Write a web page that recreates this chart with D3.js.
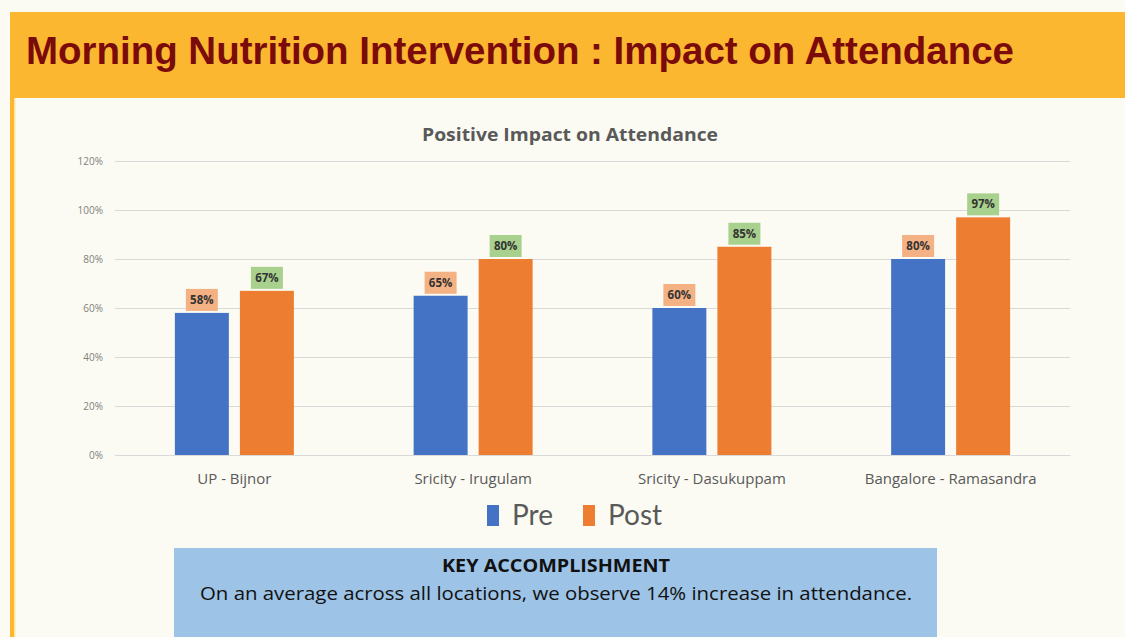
<!DOCTYPE html>
<html>
<head>
<meta charset="utf-8">
<title>Morning Nutrition Intervention</title>
<script src="https://d3js.org/d3.v7.min.js"></script>
<style>
  body { margin: 0; background: #fbfbf3; }
  svg { display: block; }
  .tick text { font-family: "Open Sans", Lato, sans-serif; }
</style>
</head>
<body>
<script>
var categories = ["UP - Bijnor", "Sricity - Irugulam", "Sricity - Dasukuppam", "Bangalore - Ramasandra"];
var series = ["Pre", "Post"];
var preValues = [58, 65, 60, 80];
var postValues = [67, 80, 85, 97];
var yTicks = [0, 20, 40, 60, 80, 100, 120];

var W = 1125, H = 637;
var svg = d3.select("body").append("svg").attr("width", W).attr("height", H);

// page frame
svg.append("rect").attr("width", W).attr("height", H).attr("fill", "#fbfbf3");
svg.append("rect").attr("x", 12).attr("y", 12).attr("width", W - 12).attr("height", 86).attr("fill", "#fbb72f");
svg.append("rect").attr("x", 10).attr("y", 12).attr("width", 4).attr("height", H - 12).attr("fill", "#fbb72f");
svg.append("rect").attr("x", 14).attr("y", 98).attr("width", 1.5).attr("height", H - 98).attr("fill", "#fde3a3");
svg.append("text").attr("x", 26).attr("y", 64)
  .attr("font-family", "'Liberation Sans Narrow', 'Liberation Sans', Arial, sans-serif").attr("font-weight", "bold")
  .attr("font-size", 38).attr("fill", "#7b0b0b")
  .attr("textLength", 988).attr("lengthAdjust", "spacingAndGlyphs")
  .text("Morning Nutrition Intervention : Impact on Attendance");

// chart
var x0 = d3.scaleBand().domain(categories).range([115, 1070]);
var x1 = d3.scaleBand().domain(series).range([-59.5, 59.5]).paddingInner(0.17);
var y = d3.scaleLinear().domain([0, 120]).range([455, 161]);
var colors = { Pre: "#4472c4", Post: "#ed7d31" };
var labelFill = { Pre: "#f4b183", Post: "#a9d18e" };

svg.append("text").attr("x", 570).attr("y", 141).attr("text-anchor", "middle")
  .attr("font-family", "'Open Sans', Lato, sans-serif").attr("font-weight", "bold")
  .attr("font-size", 18).attr("fill", "#595959")
  .attr("textLength", 296).attr("lengthAdjust", "spacingAndGlyphs")
  .text("Positive Impact on Attendance");

var yAxis = svg.append("g").attr("transform", "translate(115,0)")
  .call(d3.axisLeft(y).tickValues(yTicks).tickSize(-955).tickFormat(function (d) { return d + "%"; }));
yAxis.select(".domain").remove();
yAxis.selectAll(".tick line").attr("stroke", "#d9d9d9").attr("stroke-width", 1.2);
yAxis.selectAll(".tick text").attr("x", -12).attr("font-size", 10).attr("fill", "#7f7f7f");

var rows = [];
categories.forEach(function (c, i) {
  rows.push({ cat: c, s: "Pre", v: preValues[i] });
  rows.push({ cat: c, s: "Post", v: postValues[i] });
});
function bx(d) { return x0(d.cat) + x0.bandwidth() / 2 + x1(d.s); }

svg.append("g").selectAll("rect").data(rows).enter().append("rect")
  .attr("x", bx).attr("y", function (d) { return y(d.v); })
  .attr("width", x1.bandwidth()).attr("height", function (d) { return y(0) - y(d.v); })
  .attr("fill", function (d) { return colors[d.s]; });

var lab = svg.append("g").selectAll("g").data(rows).enter().append("g")
  .attr("transform", function (d) { return "translate(" + (bx(d) + x1.bandwidth() / 2) + "," + (y(d.v) - 13) + ")"; });
lab.append("rect").attr("x", -16).attr("y", -11).attr("width", 32).attr("height", 22)
  .attr("fill", function (d) { return labelFill[d.s]; });
lab.append("text").attr("text-anchor", "middle").attr("dy", "0.35em")
  .attr("font-family", "'Open Sans', Lato, sans-serif").attr("font-weight", "bold")
  .attr("font-size", 11.5).attr("fill", "#333").text(function (d) { return d.v + "%"; });

var xAxis = svg.append("g").attr("transform", "translate(0,455)")
  .call(d3.axisBottom(x0).tickSize(0).tickPadding(18));
xAxis.select(".domain").attr("stroke", "#d9d9d9");
xAxis.selectAll(".tick text").attr("font-size", 15).attr("fill", "#595959");

// legend
var leg = svg.append("g").selectAll("g").data(series).enter().append("g")
  .attr("transform", function (d, i) { return "translate(" + (487 + i * 96) + ",505)"; });
leg.append("rect").attr("width", 12).attr("height", 21).attr("fill", function (d) { return colors[d]; });
leg.append("text").attr("x", 25).attr("y", 20)
  .attr("font-family", "Lato, 'Open Sans', sans-serif").attr("font-size", 28)
  .attr("fill", "#595959").text(function (d) { return d; });

// key accomplishment box
svg.append("rect").attr("x", 174).attr("y", 548).attr("width", 763).attr("height", H - 548).attr("fill", "#9dc3e6");
svg.append("text").attr("x", 556).attr("y", 572).attr("text-anchor", "middle")
  .attr("font-family", "'Open Sans', Lato, sans-serif").attr("font-weight", "bold")
  .attr("font-size", 18).attr("fill", "#111")
  .attr("textLength", 228).attr("lengthAdjust", "spacingAndGlyphs")
  .text("KEY ACCOMPLISHMENT");
svg.append("text").attr("x", 556).attr("y", 600).attr("text-anchor", "middle")
  .attr("font-family", "'Open Sans', Lato, sans-serif")
  .attr("font-size", 19).attr("fill", "#111")
  .attr("textLength", 712).attr("lengthAdjust", "spacingAndGlyphs")
  .text("On an average across all locations, we observe 14% increase in attendance.");
</script>
</body>
</html>
